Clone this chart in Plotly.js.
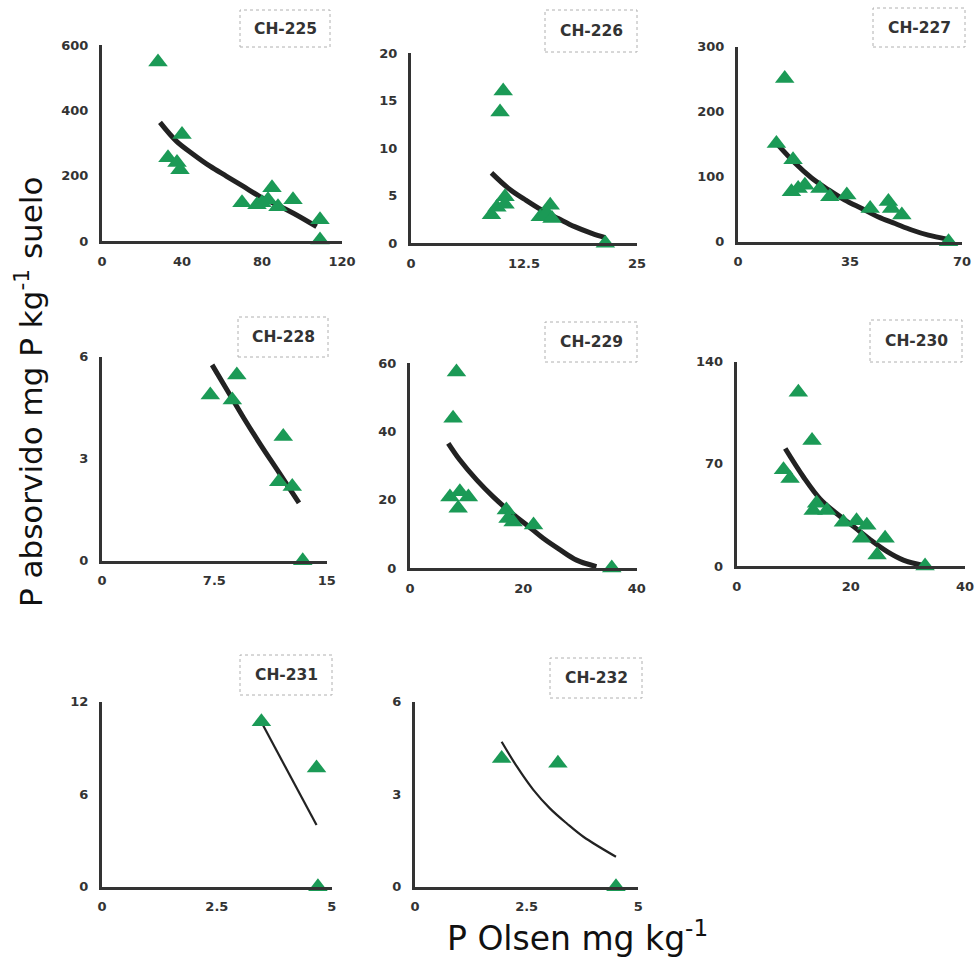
<!DOCTYPE html>
<html>
<head>
<meta charset="utf-8">
<script src="https://cdn.plot.ly/plotly-3.0.1.min.js"></script>
<style>html,body{margin:0;padding:0;background:#fff;}#chart{width:979px;height:964px;}</style>
</head>
<body>
<div id="chart"></div>
<script>
// ---- data ----
const panelNames = ["CH-225","CH-226","CH-227","CH-228","CH-229","CH-230","CH-231","CH-232"];

const x225 = [28,40,33,37.5,39,70,77.5,80,85,83,88,95.5,109,109];
const y225 = [548,326,255,240,218,117,111,117,163,126,105,126,65,3];
const cx225 = [29,37.3,45.7,54,62.3,70.7,79,87.3,95.7,107.3];
const cy225 = [363,305,265,229,198,167,136,111,85,44];

const x226 = [10.2,9.85,8.9,9.5,10.4,10.4,14.3,15,15.4,15.6,21.5];
const y226 = [16.0,13.8,3.0,3.8,4.9,4.1,2.8,3.2,4.0,2.6,0];
const cx226 = [8.9,10.75,12.6,14.45,16.3,18.1,20,21.5];
const cy226 = [7.4,5.8,4.6,3.5,2.6,1.75,1.05,0.6];

const x227 = [14.6,12,17.2,16.7,18.8,20.9,25.6,28.7,34,41.3,47,48,51.2,65.8];
const y227 = [251,151,126,77,82,87,82,69,72,51,62,51,41,0];
const cx227 = [12.5,17.8,23,28.2,33.4,38.7,43.9,49.1,54.3,59.5,65.3];
const cy227 = [149,121,98,80,64,51,38,28,18,10,4];

const x228 = [7.23,9.0,8.7,12.1,11.8,12.7,13.4];
const y228 = [4.87,5.46,4.73,3.65,2.32,2.18,0];
const cx228 = [7.35,8.35,9.47,10.6,11.7,13.15];
const cy228 = [5.76,5.02,4.19,3.4,2.67,1.7];

const x229 = [8.2,7.6,7.05,8.8,8.5,10.3,17,17.3,18.2,21.8,35.6];
const y229 = [57.4,43.8,20.8,22.3,17.5,20.8,17,14.5,13.5,12.6,0];
const cx229 = [6.75,8.8,11.8,14.7,17.6,20.6,23.5,26.5,29.4,32.9];
const cy229 = [36.5,31.6,25.7,20.8,16.5,12.6,8.7,5.3,2.3,0.4];

const x230 = [10.8,13.2,8.2,9.35,13.4,14,15.8,18.7,21,22.8,21.9,26,24.6,33];
const y230 = [119,86,66,60,38,43,38,30,31,28,19,19,7.5,0];
const cx230 = [8.5,11.7,14.6,17.5,20.5,23.4,26.3,29.2,32.7];
const cy230 = [80.5,61,46,36,27,18,10,4,0.3];

const x231 = [3.47,4.67,4.7];
const y231 = [10.7,7.7,0];
const cx231 = [3.5,4.67];
const cy231 = [10.5,4.0];

const x232 = [1.94,3.2,4.5];
const y232 = [4.16,4.0,0];
const cx232 = [1.94,2.28,2.65,3.02,3.4,3.77,4.5];
const cy232 = [4.7,3.9,3.14,2.54,2.05,1.62,0.97];

const xTicks = [[0,40,80,120],[0,12.5,25],[0,35,70],[0,7.5,15],[0,20,40],[0,20,40],[0,2.5,5],[0,2.5,5]];
const yTicks = [[0,200,400,600],[0,5,10,15,20],[0,100,200,300],[0,3,6],[0,20,40,60],[0,70,140],[0,6,12],[0,3,6]];
const xTickText = [["0","40","80","120"],["0","12.5","25"],["0","35","70"],["0","7.5","15"],["0","20","40"],["0","20","40"],["0","2.5","5"],["0","2.5","5"]];

const ptsX = [x225,x226,x227,x228,x229,x230,x231,x232];
const ptsY = [y225,y226,y227,y228,y229,y230,y231,y232];
const curX = [cx225,cx226,cx227,cx228,cx229,cx230,cx231,cx232];
const curY = [cy225,cy226,cy227,cy228,cy229,cy230,cy231,cy232];

// ---- layout geometry (pixels) ----
const W = 979, H = 964;
const px = v => v / W;
const py = v => 1 - v / H;
// [x0px, x1px, yBottomPx, yTopPx]
const boxes = [
  [102,342,241,45],[411,637,243.3,53],[738,962,241.7,46.7],
  [102,326.7,560.7,356.7],[410,636.7,568,363],[736.7,965,566,361.7],
  [102,331.7,886.7,701.7],[415,638.3,886.7,701.7]
];
const labelBoxes = [
  [240,330,10,47],[545,637,10,52],[873,965,8,47],
  [238,328,317,357],[545,637,322,362],[870,962,320,362],
  [240,332,655,695],[550,642,658,698]
];
const curveWidths = [5,5,5,5,5,5,2.2,2.2];

const green = '#1b9a56';
const data = [];
const layout = {
  width: W, height: H,
  margin: {l:0,r:0,t:0,b:0},
  paper_bgcolor: '#fff', plot_bgcolor: '#fff',
  showlegend: false,
  shapes: [], annotations: []
};
const tickFont = {family: 'DejaVu Sans, sans-serif', size: 13, color: '#333', weight: 'bold'};

for (let i = 0; i < 8; i++) {
  const n = i + 1;
  const xa = n === 1 ? 'x' : 'x' + n;
  const ya = n === 1 ? 'y' : 'y' + n;
  const b = boxes[i];
  const xr = [xTicks[i][0], xTicks[i][xTicks[i].length-1]];
  const yr = [yTicks[i][0], yTicks[i][yTicks[i].length-1]];
  layout['xaxis' + (n === 1 ? '' : n)] = {
    domain: [px(b[0]), px(b[1])], anchor: ya, range: xr,
    showline: true, linecolor: '#333', linewidth: 3,
    showgrid: false, zeroline: false, ticks: '',
    tickvals: xTicks[i], ticktext: xTickText[i], tickfont: tickFont,
    ticklabelstandoff: 6
  };
  layout['yaxis' + (n === 1 ? '' : n)] = {
    domain: [py(b[2]), py(b[3])], anchor: xa, range: yr,
    showline: true, linecolor: '#333', linewidth: 3,
    showgrid: false, zeroline: false, ticks: '',
    tickvals: yTicks[i], tickfont: tickFont,
    ticklabelstandoff: 8
  };
  data.push({
    x: curX[i], y: curY[i], xaxis: xa, yaxis: ya, type: 'scatter', mode: 'lines',
    line: {color: '#222', width: curveWidths[i], shape: 'spline', smoothing: 1},
    cliponaxis: false, hoverinfo: 'skip'
  });
  data.push({
    x: ptsX[i], y: ptsY[i], xaxis: xa, yaxis: ya, type: 'scatter', mode: 'markers',
    marker: {symbol: 'triangle-up', size: 17, color: green},
    cliponaxis: false
  });
  const lb = labelBoxes[i];
  layout.shapes.push({
    type: 'rect', xref: 'paper', yref: 'paper',
    x0: px(lb[0]), x1: px(lb[1]), y0: py(lb[3]), y1: py(lb[2]),
    line: {color: '#b0b0b0', width: 1, dash: 'dot'}, fillcolor: 'rgba(0,0,0,0)'
  });
  layout.annotations.push({
    xref: 'paper', yref: 'paper', x: px((lb[0]+lb[1])/2), y: py((lb[2]+lb[3])/2),
    xanchor: 'center', yanchor: 'middle', showarrow: false, text: panelNames[i],
    font: {family: 'DejaVu Sans, sans-serif', size: 15.5, color: '#333', weight: 'bold'}
  });
}

layout.annotations.push({
  xref: 'paper', yref: 'paper', x: px(29), y: py(392), textangle: -90,
  xanchor: 'center', yanchor: 'middle', showarrow: false,
  text: 'P absorvido mg P kg<sup>-1</sup> suelo',
  font: {family: 'DejaVu Sans, sans-serif', size: 31, color: '#111'}
});
layout.annotations.push({
  xref: 'paper', yref: 'paper', x: px(577), y: py(936),
  xanchor: 'center', yanchor: 'middle', showarrow: false,
  text: 'P Olsen mg kg<sup>-1</sup>',
  font: {family: 'DejaVu Sans, sans-serif', size: 33, color: '#111'}
});

Plotly.newPlot('chart', data, layout, {staticPlot: true, displayModeBar: false});
</script>
</body>
</html>
